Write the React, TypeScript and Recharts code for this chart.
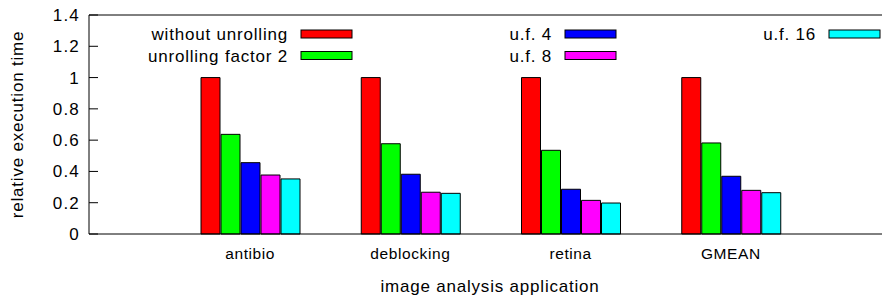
import { BarChart, Bar, XAxis, YAxis, ReferenceLine } from "recharts";

// relative execution time per application
const categories = ["antibio", "deblocking", "retina", "GMEAN"];
const withoutUnrolling = [1, 1, 1, 1];
const factor2 = [0.637, 0.577, 0.535, 0.582];
const factor4 = [0.456, 0.382, 0.286, 0.369];
const factor8 = [0.377, 0.267, 0.215, 0.279];
const factor16 = [0.352, 0.26, 0.198, 0.264];
const yTicks = [0, 0.2, 0.4, 0.6, 0.8, 1, 1.2, 1.4];

const seriesNames = ["without unrolling", "unrolling factor 2", "u.f. 4", "u.f. 8", "u.f. 16"];
const seriesColors = ["#ff0000", "#00ff00", "#0000ff", "#ff00ff", "#00ffff"];
const seriesValues = [withoutUnrolling, factor2, factor4, factor8, factor16];

const data = categories.map((name, i) => {
  const row: Record<string, string | number> = { name };
  seriesValues.forEach((vals, s) => {
    row["s" + s] = vals[i];
  });
  return row;
});

const FONT = "'Liberation Sans', Arial, sans-serif";

// gnuplot style ticks point into the plot
const LeftTick = (props: any) => {
  const { x, y, payload } = props;
  return (
    <g>
      <line x1={x + 10} x2={x + 19} y1={y} y2={y} stroke="#000" />
      <text x={x + 1} y={y} dy={6} textAnchor="end" fontSize={17} fill="#000" style={{ letterSpacing: 1.2 }}>
        {String(payload.value)}
      </text>
    </g>
  );
};

const RightTick = (props: any) => {
  const { x, y } = props;
  return <line x1={x} x2={x - 9} y1={y} y2={y} stroke="#000" />;
};

const YLabel = (props: any) => {
  const { viewBox } = props;
  const cx = viewBox.x + 23;
  const cy = viewBox.y + viewBox.height / 2;
  return (
    <text
      x={0}
      y={0}
      transform={`translate(${cx},${cy}) rotate(-90)`}
      textAnchor="middle"
      fontSize={17}
      fill="#000"
      style={{ letterSpacing: 0.8 }}
    >
      relative execution time
    </text>
  );
};

const legendSwatchX = [301, 565, 829];
const legendRowY = [30, 51.5];

function KeyBox() {
  return (
    <svg width={882} height={70} style={{ position: "absolute", left: 0, top: 0, pointerEvents: "none" }}>
      {seriesNames.map((name, i) => {
        const col = Math.floor(i / 2);
        const row = i % 2;
        const sx = legendSwatchX[col];
        const sy = legendRowY[row];
        return (
          <g key={name}>
            <text
              x={sx - 13}
              y={sy + 10}
              textAnchor="end"
              fontSize={17}
              fontFamily={FONT}
              fill="#000"
              style={{ letterSpacing: 0.8 }}
            >
              {name}
            </text>
            <rect x={sx} y={sy} width={51} height={8} fill={seriesColors[i]} stroke="#000" />
          </g>
        );
      })}
    </svg>
  );
}

export default function App() {
  return (
    <div
      style={{
        position: "absolute",
        left: 0,
        top: 0,
        width: 882,
        height: 298,
        overflow: "hidden",
        background: "#fff",
        fontFamily: FONT,
      }}
    >
      <BarChart
        width={900}
        height={298}
        data={data}
        margin={{ top: 15, right: 9, left: 0, bottom: 0 }}
        barSize={19}
        barGap={1}
      >
        <XAxis
          dataKey="name"
          height={64}
          padding={{ left: 81, right: 80 }}
          tickLine={false}
          tickSize={0}
          tickMargin={14}
          axisLine={{ stroke: "#000" }}
          tick={{ fill: "#000", fontSize: 15.5, style: { letterSpacing: 0.6 } } as any}
          label={{
            value: "image analysis application",
            position: "insideBottom",
            offset: 6,
            fill: "#000",
            fontSize: 17,
            style: { letterSpacing: 0.8 },
          }}
        />
        <YAxis
          yAxisId="left"
          width={89}
          domain={[0, 1.4]}
          ticks={yTicks}
          interval={0}
          tickLine={false}
          tickSize={0}
          tickMargin={10}
          axisLine={{ stroke: "#000" }}
          tick={<LeftTick />}
          label={<YLabel />}
        />
        <YAxis
          yAxisId="right"
          orientation="right"
          width={0}
          domain={[0, 1.4]}
          ticks={yTicks}
          interval={0}
          tickLine={false}
          tickSize={0}
          tickMargin={0}
          axisLine={{ stroke: "#000" }}
          tick={<RightTick />}
        />
        <ReferenceLine yAxisId="left" y={1.4} stroke="#000" />
        {seriesNames.map((name, s) => (
          <Bar
            key={name}
            yAxisId="left"
            dataKey={"s" + s}
            name={name}
            fill={seriesColors[s]}
            stroke="#000"
            strokeWidth={1}
            isAnimationActive={false}
          />
        ))}
      </BarChart>
      <KeyBox />
    </div>
  );
}
